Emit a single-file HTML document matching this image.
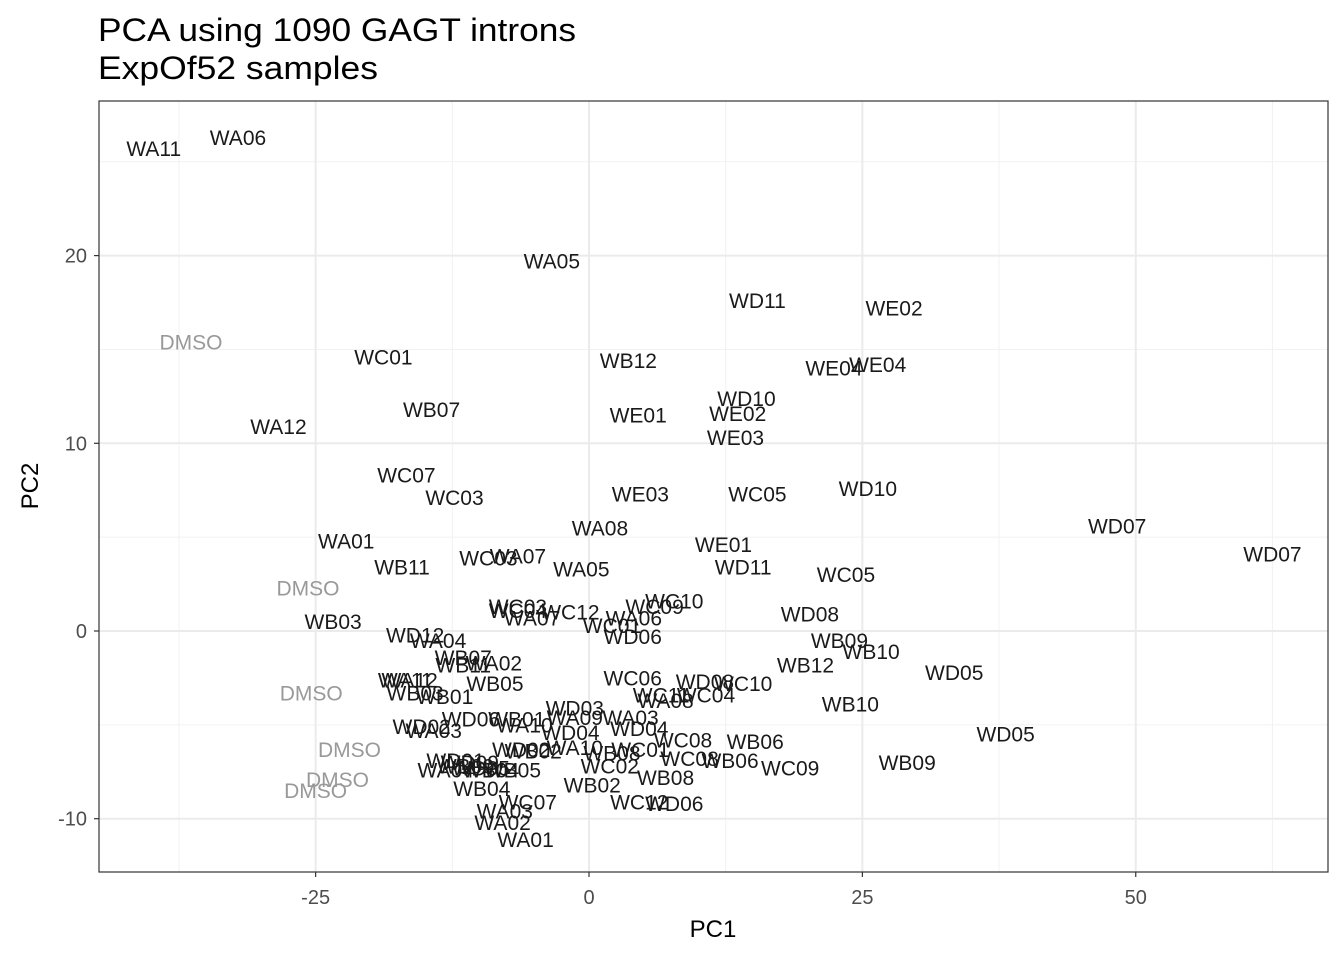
<!DOCTYPE html>
<html><head><meta charset="utf-8"><style>
html,body{margin:0;padding:0;background:#fff;}
svg{display:block;font-family:"Liberation Sans",sans-serif;}
</style></head><body>
<svg id="chart" width="1344" height="960">
  <text x="98" y="41" font-size="32" fill="#000" textLength="478" lengthAdjust="spacingAndGlyphs">PCA using 1090 GAGT introns</text>
  <text x="98" y="79" font-size="32" fill="#000" textLength="280" lengthAdjust="spacingAndGlyphs">ExpOf52 samples</text>
  <g id="grid"></g>
  <g id="labels"></g>
  <rect x="99" y="101" width="1229" height="771" fill="none" stroke="#333" stroke-width="1.2"/>
  <g id="axes"></g>
  <text x="713" y="937" font-size="24" text-anchor="middle" fill="#000">PC1</text>
  <text transform="translate(38,486) rotate(-90)" font-size="24" text-anchor="middle" fill="#000">PC2</text>
</svg>
<script>
const xTicks=[-25,0,25,50];
const yTicks=[-10,0,10,20];
const xMinor=[-37.5,-12.5,12.5,37.5,62.5];
const yMinor=[-5,5,15,25];
const names=["WA11","WA06","WA05","WD11","WE02","DMSO","WC01","WB12","WE04","WE04","WD10","WA12","WB07","WE01","WE02","WE03","WC07","WC03","WE03","WC05","WD10","WD07","WD07","WA08","WA01","WE01","WB11","WC03","WA07","WA05","WD11","WC05","DMSO","WC10","WC09","WB03","WC03","WC04","WC12","WA06","WA07","WC01","WD06","WD08","WD12","WA04","WB09","WB10","WB07","WB11","WA02","WB12","WD05","WA11","WA12","WB05","WC06","WD08","WC10","WC04","WC11","WA08","DMSO","WB03","WB01","WB10","WD03","WD05","WD02","WA03","WD06","WB01","WA10","WA09","WA03","WD04","WD04","WA10","WD02","WB02","WB08","WC01","WC08","WC08","WB06","WB06","WC09","WB09","DMSO","DMSO","DMSO","WC02","WD01","WD09","WB09","WA04","WD05","WB05","WB04","WB04","WB02","WB08","WC07","WA03","WA02","WA01","WC12","WD06"];
const pc1=[-39.8,-32.1,-3.4,15.4,27.9,-36.4,-18.8,3.6,22.4,26.4,14.4,-28.4,-14.4,4.5,13.6,13.4,-16.7,-12.3,4.7,15.4,25.5,48.3,62.5,1.0,-22.2,12.3,-17.1,-9.2,-6.5,-0.7,14.1,23.5,-25.7,7.8,6.0,-23.4,-6.5,-6.5,-1.7,4.1,-5.2,2.1,4.0,20.2,-15.9,-13.8,22.9,25.8,-11.5,-11.5,-8.7,19.8,33.4,-16.8,-16.4,-8.6,4.0,10.6,14.1,10.7,6.6,7.0,-25.4,-15.9,-13.2,23.9,-1.3,38.1,-15.3,-14.2,-10.8,-6.6,-5.9,-1.3,3.8,4.6,-1.7,-1.3,-6.2,-5.1,2.1,4.7,8.6,9.2,15.2,12.9,18.4,29.1,-21.9,-23.0,-25.0,1.9,-12.2,-10.9,-11.3,-13.1,-9.9,-7.0,-9.0,-9.8,0.3,7.0,-5.6,-7.7,-7.9,-5.8,4.6,7.8];
const pc2=[25.7,26.3,19.7,17.6,17.2,15.4,14.6,14.4,14.0,14.2,12.4,10.9,11.8,11.5,11.6,10.3,8.3,7.1,7.3,7.3,7.6,5.6,4.1,5.5,4.8,4.6,3.4,3.9,4.0,3.3,3.4,3.0,2.3,1.6,1.3,0.5,1.3,1.1,1.0,0.7,0.7,0.3,-0.3,0.9,-0.2,-0.5,-0.5,-1.1,-1.4,-1.8,-1.7,-1.8,-2.2,-2.6,-2.6,-2.8,-2.5,-2.7,-2.8,-3.4,-3.4,-3.7,-3.3,-3.3,-3.5,-3.9,-4.1,-5.5,-5.1,-5.3,-4.7,-4.7,-5.0,-4.6,-4.6,-5.2,-5.4,-6.2,-6.3,-6.4,-6.5,-6.3,-5.8,-6.8,-5.9,-6.9,-7.3,-7.0,-6.3,-7.9,-8.5,-7.2,-6.9,-7.0,-7.2,-7.4,-7.3,-7.4,-7.4,-8.4,-8.2,-7.8,-9.1,-9.6,-10.2,-11.1,-9.1,-9.2];

const NS="http://www.w3.org/2000/svg";
const X=v=>589+v*10.935;
const Y=v=>631-v*18.77;
const L=99,R=1328,T=101,B=872;
const grid=document.getElementById('grid');
const axes=document.getElementById('axes');
const labels=document.getElementById('labels');
function line(p,x1,y1,x2,y2,c,w,name){
  const l=document.createElementNS(NS,'line');
  l.setAttribute('x1',x1);l.setAttribute('y1',y1);l.setAttribute('x2',x2);l.setAttribute('y2',y2);
  l.setAttribute('stroke',c);l.setAttribute('stroke-width',w);
  
  
  p.appendChild(l);
}
xMinor.forEach(v=>line(grid,X(v),T,X(v),B,'#f2f2f2',1,'x-minor-gridline'));
yMinor.forEach(v=>line(grid,L,Y(v),R,Y(v),'#f2f2f2',1,'y-minor-gridline'));
xTicks.forEach(v=>{
  line(grid,X(v),T,X(v),B,'#ebebeb',2,'x-major-gridline');
  line(axes,X(v),B,X(v),B+5,'#333',1.2,'x-tick');
  const t=document.createElementNS(NS,'text');
  t.setAttribute('x',X(v));t.setAttribute('y',B+32);t.setAttribute('font-size','20');
  t.setAttribute('text-anchor','middle');t.setAttribute('fill','#4d4d4d');
  t.textContent=v;
  
  
  axes.appendChild(t);
});
yTicks.forEach(v=>{
  line(grid,L,Y(v),R,Y(v),'#ebebeb',2,'y-major-gridline');
  line(axes,L-5,Y(v),L,Y(v),'#333',1.2,'y-tick');
  const t=document.createElementNS(NS,'text');
  t.setAttribute('x',L-12);t.setAttribute('y',Y(v)+7);t.setAttribute('font-size','20');
  t.setAttribute('text-anchor','end');t.setAttribute('fill','#4d4d4d');
  t.textContent=v;
  
  
  axes.appendChild(t);
});
names.forEach((n,i)=>{
  const t=document.createElementNS(NS,'text');
  t.setAttribute('x',X(pc1[i]));t.setAttribute('y',Y(pc2[i])+7.5);
  t.setAttribute('font-size','21');t.setAttribute('text-anchor','middle');
  t.setAttribute('fill',n==='DMSO'?'#999999':'#1a1a1a');
  t.textContent=n;
  
  
  labels.appendChild(t);
});
</script>
</body></html>
